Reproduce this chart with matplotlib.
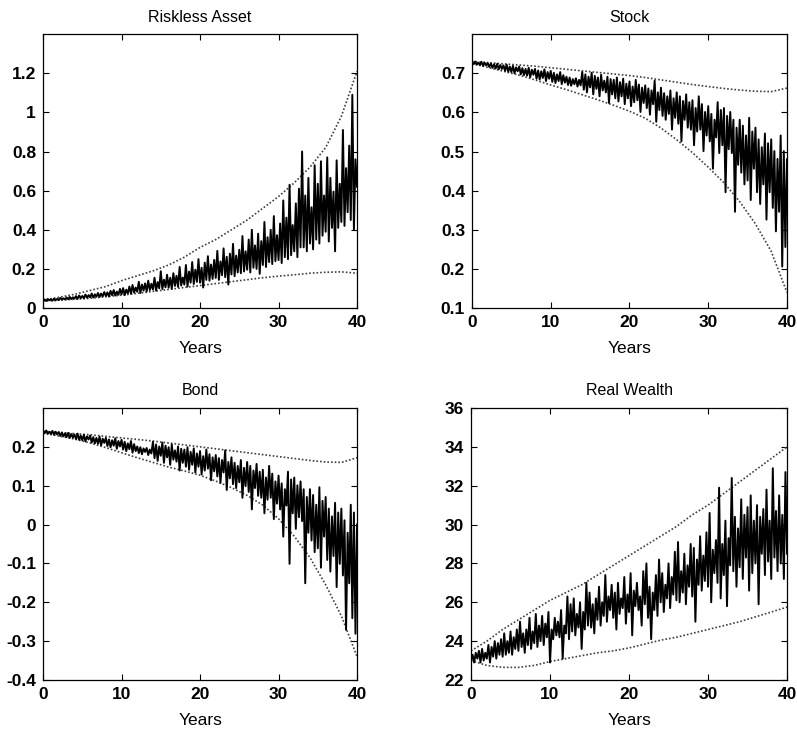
import numpy as np
import matplotlib
matplotlib.use("Agg")
import matplotlib.pyplot as plt

plt.rcParams['font.family'] = ['Liberation Sans', 'DejaVu Sans']

years_band = [0, 2, 4, 6, 8, 10, 12, 14, 16, 18, 20, 22, 24, 26, 28, 30, 32, 34, 36, 38, 40]
step = 0.2  # path sampled every 0.2 years

# ---------------- Riskless Asset ----------------
riskless_upper = [0.04, 0.055, 0.07, 0.09, 0.11, 0.14, 0.165, 0.19, 0.22, 0.26, 0.31,
                  0.35, 0.40, 0.45, 0.51, 0.57, 0.64, 0.72, 0.82, 0.98, 1.21]
riskless_lower = [0.035, 0.04, 0.045, 0.05, 0.058, 0.066, 0.075, 0.085, 0.095, 0.105, 0.115,
                  0.125, 0.135, 0.145, 0.155, 0.163, 0.17, 0.178, 0.183, 0.185, 0.178]
riskless_path = [
    0.037, 0.044, 0.036, 0.046, 0.040,
    0.045, 0.038, 0.048, 0.040, 0.047,
    0.041, 0.052, 0.043, 0.050, 0.044,
    0.054, 0.045, 0.057, 0.046, 0.055,
    0.048, 0.061, 0.047, 0.064, 0.051,
    0.062, 0.050, 0.069, 0.053, 0.066,
    0.055, 0.074, 0.054, 0.070, 0.058,
    0.077, 0.057, 0.074, 0.060, 0.082,
    0.062, 0.080, 0.059, 0.088, 0.066,
    0.092, 0.064, 0.084, 0.068, 0.098,
    0.070, 0.102, 0.066, 0.094, 0.075,
    0.110, 0.073, 0.118, 0.079, 0.105,
    0.083, 0.134, 0.077, 0.120, 0.089,
    0.126, 0.085, 0.140, 0.092, 0.124,
    0.095, 0.155, 0.089, 0.133, 0.101,
    0.188, 0.097, 0.145, 0.106, 0.170,
    0.104, 0.155, 0.098, 0.178, 0.113,
    0.165, 0.108, 0.210, 0.115, 0.156,
    0.120, 0.220, 0.110, 0.186, 0.130,
    0.235, 0.123, 0.196, 0.134, 0.250,
    0.130, 0.206, 0.105, 0.232, 0.144,
    0.265, 0.140, 0.222, 0.149, 0.246,
    0.154, 0.292, 0.144, 0.238, 0.168,
    0.305, 0.158, 0.262, 0.120, 0.278,
    0.172, 0.328, 0.163, 0.268, 0.182,
    0.298, 0.178, 0.368, 0.187, 0.290,
    0.196, 0.350, 0.182, 0.400, 0.206,
    0.320, 0.200, 0.380, 0.175, 0.342,
    0.220, 0.440, 0.210, 0.362, 0.235,
    0.400, 0.225, 0.470, 0.240, 0.372,
    0.245, 0.432, 0.230, 0.550, 0.260,
    0.462, 0.250, 0.630, 0.270, 0.424,
    0.290, 0.535, 0.260, 0.610, 0.310,
    0.800, 0.310, 0.575, 0.290, 0.665,
    0.330, 0.515, 0.300, 0.730, 0.350,
    0.635, 0.330, 0.750, 0.370, 0.575,
    0.390, 0.770, 0.340, 0.665, 0.410,
    0.595, 0.290, 0.755, 0.410, 0.635,
    0.440, 0.910, 0.420, 0.715, 0.490,
    0.830, 0.450, 1.090, 0.400, 0.760,
    0.620]

# ---------------- Stock ----------------
stock_upper = [0.730, 0.727, 0.724, 0.721, 0.718, 0.714, 0.710, 0.706, 0.702, 0.698, 0.694,
               0.689, 0.683, 0.677, 0.671, 0.666, 0.661, 0.657, 0.654, 0.653, 0.662]
stock_lower = [0.725, 0.715, 0.705, 0.695, 0.683, 0.670, 0.658, 0.645, 0.632, 0.618, 0.603,
               0.585, 0.560, 0.530, 0.497, 0.460, 0.420, 0.372, 0.315, 0.245, 0.140]
stock_path = [
    0.729, 0.723, 0.730, 0.722, 0.727,
    0.721, 0.729, 0.719, 0.727, 0.720,
    0.726, 0.716, 0.725, 0.714, 0.723,
    0.712, 0.724, 0.710, 0.721, 0.711,
    0.720, 0.706, 0.722, 0.704, 0.717,
    0.703, 0.719, 0.700, 0.715, 0.705,
    0.717, 0.697, 0.713, 0.695, 0.711,
    0.694, 0.714, 0.690, 0.709, 0.696,
    0.711, 0.686, 0.707, 0.684, 0.705,
    0.688, 0.710, 0.680, 0.703, 0.686,
    0.706, 0.678, 0.701, 0.675, 0.697,
    0.680, 0.703, 0.672, 0.695, 0.676,
    0.691, 0.670, 0.689, 0.668, 0.685,
    0.672, 0.687, 0.666, 0.683, 0.669,
    0.703, 0.658, 0.697, 0.651, 0.691,
    0.664, 0.701, 0.646, 0.693, 0.660,
    0.689, 0.641, 0.696, 0.656, 0.681,
    0.651, 0.691, 0.624, 0.685, 0.646,
    0.683, 0.636, 0.689, 0.628, 0.677,
    0.641, 0.686, 0.621, 0.673, 0.636,
    0.679, 0.616, 0.666, 0.626, 0.683,
    0.631, 0.671, 0.601, 0.663, 0.624,
    0.669, 0.611, 0.661, 0.594, 0.656,
    0.621, 0.681, 0.576, 0.651, 0.606,
    0.663, 0.591, 0.649, 0.581, 0.641,
    0.596, 0.656, 0.556, 0.636, 0.586,
    0.651, 0.571, 0.641, 0.526, 0.629,
    0.581, 0.646, 0.561, 0.626, 0.556,
    0.631, 0.516, 0.611, 0.551, 0.641,
    0.556, 0.621, 0.501, 0.601, 0.541,
    0.616, 0.526, 0.596, 0.456, 0.581,
    0.536, 0.626, 0.496, 0.606, 0.516,
    0.611, 0.396, 0.591, 0.506, 0.601,
    0.496, 0.581, 0.346, 0.561, 0.466,
    0.581, 0.446, 0.566, 0.416, 0.541,
    0.426, 0.586, 0.376, 0.551, 0.456,
    0.561, 0.396, 0.531, 0.366, 0.511,
    0.416, 0.546, 0.326, 0.521, 0.396,
    0.531, 0.356, 0.501, 0.296, 0.481,
    0.346, 0.541, 0.206, 0.501, 0.256,
    0.480]

# ---------------- Bond ----------------
bond_upper = [0.240, 0.237, 0.234, 0.231, 0.227, 0.223, 0.219, 0.215, 0.210, 0.205, 0.200,
              0.195, 0.190, 0.185, 0.180, 0.175, 0.170, 0.165, 0.161, 0.160, 0.172]
bond_lower = [0.235, 0.228, 0.220, 0.210, 0.198, 0.185, 0.172, 0.160, 0.148, 0.138, 0.127,
              0.112, 0.095, 0.075, 0.050, 0.015, -0.030, -0.085, -0.155, -0.235, -0.340]
bond_path = [
    0.241, 0.235, 0.242, 0.234, 0.239,
    0.233, 0.241, 0.231, 0.239, 0.232,
    0.238, 0.228, 0.237, 0.227, 0.235,
    0.225, 0.236, 0.223, 0.233, 0.224,
    0.232, 0.220, 0.234, 0.218, 0.229,
    0.217, 0.231, 0.214, 0.227, 0.219,
    0.229, 0.211, 0.225, 0.209, 0.223,
    0.208, 0.226, 0.204, 0.221, 0.210,
    0.223, 0.202, 0.219, 0.199, 0.217,
    0.203, 0.222, 0.195, 0.215, 0.201,
    0.218, 0.193, 0.213, 0.189, 0.209,
    0.194, 0.215, 0.185, 0.207, 0.189,
    0.201, 0.184, 0.199, 0.181, 0.196,
    0.187, 0.197, 0.179, 0.193, 0.183,
    0.213, 0.171, 0.206, 0.164, 0.201,
    0.177, 0.211, 0.159, 0.203, 0.173,
    0.199, 0.154, 0.206, 0.167, 0.191,
    0.162, 0.201, 0.139, 0.195, 0.159,
    0.193, 0.149, 0.199, 0.141, 0.187,
    0.154, 0.196, 0.134, 0.183, 0.149,
    0.189, 0.129, 0.176, 0.139, 0.193,
    0.144, 0.181, 0.114, 0.173, 0.137,
    0.179, 0.124, 0.171, 0.107, 0.166,
    0.134, 0.191, 0.089, 0.161, 0.119,
    0.173, 0.104, 0.159, 0.094, 0.151,
    0.109, 0.166, 0.069, 0.146, 0.099,
    0.161, 0.084, 0.151, 0.039, 0.139,
    0.094, 0.156, 0.074, 0.136, 0.069,
    0.141, 0.029, 0.121, 0.064, 0.151,
    0.069, 0.131, 0.014, 0.111, 0.054,
    0.126, 0.039, 0.106, -0.031, 0.091,
    0.049, 0.136, -0.101, 0.116, 0.029,
    0.121, -0.011, 0.101, 0.019, 0.111,
    0.009, 0.091, -0.151, 0.071, -0.021,
    0.091, -0.041, 0.076, -0.071, 0.051,
    -0.061, 0.096, -0.111, 0.061, -0.031,
    0.071, -0.091, 0.041, -0.121, 0.021,
    -0.081, 0.056, -0.161, 0.031, -0.101,
    0.041, -0.131, 0.011, -0.271, -0.021,
    -0.151, 0.051, -0.241, 0.031, -0.281,
    0.000]

# ---------------- Real Wealth ----------------
wealth_upper = [23.5, 24.0, 24.6, 25.1, 25.6, 26.1, 26.5, 26.9, 27.4, 27.9, 28.4,
                28.9, 29.4, 29.9, 30.5, 31.0, 31.6, 32.2, 32.8, 33.4, 34.0]
wealth_lower = [23.0, 22.75, 22.65, 22.65, 22.75, 22.95, 23.1, 23.25, 23.4, 23.5, 23.65,
                23.85, 24.05, 24.2, 24.4, 24.6, 24.8, 25.0, 25.25, 25.5, 25.75]
wealth_path = [
    23.0, 23.3, 22.9, 23.4, 23.1,
    23.5, 22.9, 23.6, 23.0, 23.4,
    23.1, 23.8, 22.9, 23.7, 23.2,
    24.0, 23.1, 23.9, 23.3, 24.1,
    23.2, 24.4, 23.3, 24.0, 23.4,
    24.5, 23.3, 24.2, 23.6, 24.6,
    23.5, 25.0, 23.7, 24.4, 23.4,
    24.6, 23.8, 25.2, 23.6, 24.5,
    23.9, 25.4, 23.7, 24.8, 24.0,
    25.3, 23.8, 24.9, 24.2, 25.5,
    22.9, 24.6, 24.1, 25.2, 24.3,
    25.0, 24.2, 25.6, 23.1, 24.8,
    24.4, 26.3, 24.1, 25.9, 24.5,
    26.2, 24.3, 25.4, 24.7, 26.0,
    23.6, 25.5, 24.6, 27.0, 24.8,
    26.5, 24.7, 25.9, 24.4, 26.2,
    25.1, 26.8, 24.8, 26.0, 25.3,
    27.4, 25.0, 26.3, 25.6, 26.9,
    25.2, 26.5, 24.6, 27.0, 25.4,
    26.2, 25.7, 27.3, 24.9, 26.4,
    25.5, 27.5, 24.3, 26.6, 25.8,
    27.0, 25.6, 26.3, 24.8, 27.6,
    25.9, 28.0, 25.2, 26.8, 24.1,
    26.5, 25.6, 27.4, 25.3, 28.2,
    26.0, 27.5, 25.5, 26.9, 26.2,
    28.0, 25.7, 27.3, 26.4, 28.6,
    26.1, 29.1, 26.0, 27.6, 26.5,
    28.5, 25.9, 27.9, 26.8, 29.0,
    26.3, 28.8, 25.0, 28.2, 26.9,
    29.4, 26.6, 28.4, 27.1, 29.6,
    26.8, 30.6, 26.0, 28.7, 27.5,
    29.2, 27.0, 31.9, 26.2, 29.0,
    27.4, 30.2, 25.8, 29.3, 27.9,
    32.4, 27.6, 30.4, 26.8, 29.8,
    27.8, 31.3, 27.2, 30.5, 28.3,
    30.9, 26.6, 31.5, 27.5, 30.2,
    28.0, 31.0, 25.9, 30.4, 28.5,
    30.8, 27.4, 31.8, 28.1, 30.2,
    27.2, 32.9, 28.3, 30.7, 27.6,
    31.5, 28.0, 30.5, 27.2, 32.7,
    28.5]

panels = [
    ("Riskless Asset", riskless_path, riskless_upper, riskless_lower, (0, 1.4),
     [0, 0.2, 0.4, 0.6, 0.8, 1.0, 1.2], ["0", "0.2", "0.4", "0.6", "0.8", "1", "1.2"],
     [0.054, 0.578, 0.394, 0.3753]),
    ("Stock", stock_path, stock_upper, stock_lower, (0.1, 0.8),
     [0.1, 0.2, 0.3, 0.4, 0.5, 0.6, 0.7], ["0.1", "0.2", "0.3", "0.4", "0.5", "0.6", "0.7"],
     [0.5922, 0.578, 0.3952, 0.3753]),
    ("Bond", bond_path, bond_upper, bond_lower, (-0.4, 0.3),
     [-0.4, -0.3, -0.2, -0.1, 0, 0.1, 0.2], ["-0.4", "-0.3", "-0.2", "-0.1", "0", "0.1", "0.2"],
     [0.054, 0.0685, 0.394, 0.3726]),
    ("Real Wealth", wealth_path, wealth_upper, wealth_lower, (22, 36),
     [22, 24, 26, 28, 30, 32, 34, 36], ["22", "24", "26", "28", "30", "32", "34", "36"],
     [0.591, 0.0685, 0.3965, 0.3726]),
]

fig = plt.figure(figsize=(7.97, 7.30), dpi=100)
for title, path, up, lo, ylim, yt, ytl, pos in panels:
    ax = fig.add_axes(pos)
    t = np.arange(len(path)) * step
    ax.plot(years_band, up, color='0.25', lw=1.2, ls=(0, (1, 1.2)))
    ax.plot(years_band, lo, color='0.25', lw=1.2, ls=(0, (1, 1.2)))
    ax.plot(t, path, color='black', lw=1.4)
    ax.set_xlim(0, 40)
    ax.set_ylim(*ylim)
    ax.set_xticks([0, 10, 20, 30, 40])
    ax.set_xticklabels(["0", "10", "20", "30", "40"])
    ax.set_yticks(yt)
    ax.set_yticklabels(ytl)
    ax.tick_params(direction='in', top=True, right=True, length=4, width=0.8,
                   labelsize=12.5)
    ax.tick_params(axis='x', pad=5)
    ax.tick_params(axis='y', pad=5)
    for lab in ax.get_xticklabels() + ax.get_yticklabels():
        lab.set_fontweight('bold')
    ax.set_title(title, fontsize=11.5, pad=9)
    ax.set_xlabel("Years", fontsize=12.5, labelpad=8)
    for s in ax.spines.values():
        s.set_linewidth(0.9)

fig.savefig("out.png", dpi=100)
